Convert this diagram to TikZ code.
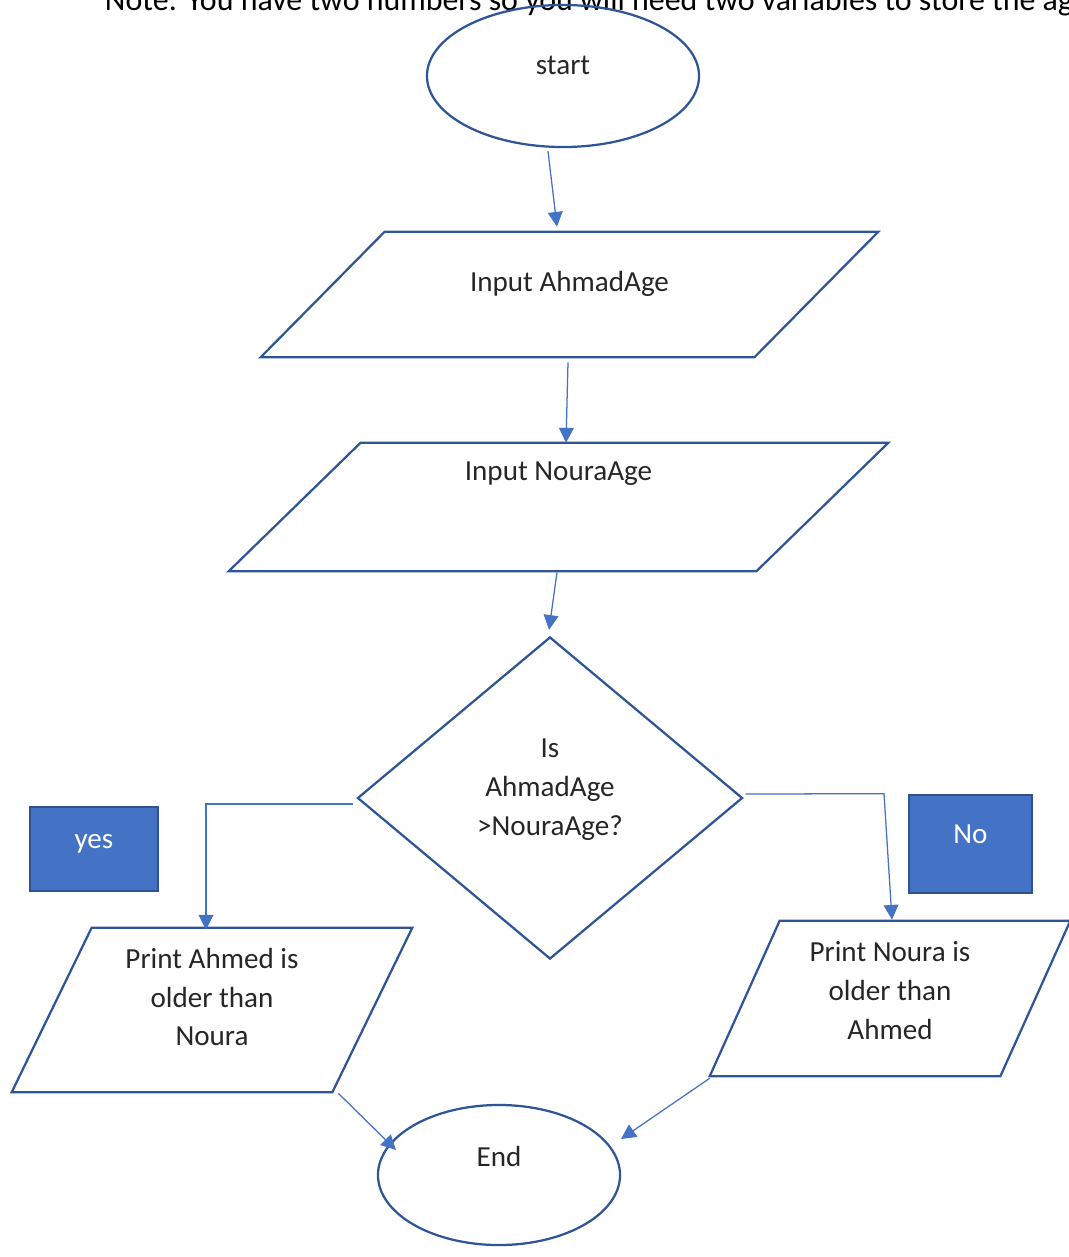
\documentclass[tikz,border=0pt]{standalone}
\usepackage{fontspec}
\setmainfont{Carlito}
\usetikzlibrary{shapes.geometric,arrows.meta,calc}

\definecolor{edgeblue}{HTML}{2F5597}
\definecolor{flowblue}{HTML}{4472C4}
\definecolor{tagline}{HTML}{2F528F}
\definecolor{ink}{HTML}{262626}

\tikzset{
  txt/.style={text=ink, align=center, font=\fontsize{20.7}{27.7}\selectfont},
  outline/.style={draw=edgeblue, line width=1.6pt},
  term/.style={ellipse, outline, inner sep=0pt},
  io/.style={rectangle, inner sep=0pt},
  decision/.style={diamond, outline, inner sep=0pt},
  tag/.style={rectangle, draw=tagline, line width=1.5pt, fill=flowblue, inner sep=0pt},
  flow/.style={draw=flowblue, line width=0.9pt, -{Triangle[length=10.5pt,width=10.5pt]}},
}

\begin{document}
\begin{tikzpicture}[x=0.025cm, y=-0.025cm]
  \useasboundingbox (0,0) rectangle (1069,1257);
  \clip (0,0) rectangle (1069,1257);

  % Define nodes
  \node[txt, text=black, font=\fontsize{22.7}{27.7}\selectfont, anchor=base west] (note) at (100,10)
    {Note: You have two numbers so you will need two variables to store the ag};
  \node[term, minimum width=6.8cm, minimum height=3.55cm,
        label={[txt, yshift=0.275cm]center:start}] (start) at (563,76) {};
  \node[io, minimum width=15.425cm, minimum height=3.125cm,
        label={[txt, yshift=0.26cm]center:Input AhmadAge}] (inA) at (569.5,294.5) {};
  \node[io, minimum width=16.475cm, minimum height=3.2cm,
        label={[txt, yshift=0.825cm]center:Input NouraAge}] (inN) at (558.5,507) {};
  \node[decision, minimum width=9.625cm, minimum height=8.05cm,
        label={[txt, yshift=0.2cm]center:Is\\AhmadAge\\>NouraAge?}] (dec) at (550,798) {};
  \node[tag, minimum width=3.2cm, minimum height=2.1cm,
        label={[txt, text=white, yshift=0.125cm]center:yes}] (yes) at (94,849) {};
  \node[tag, minimum width=3.075cm, minimum height=2.45cm,
        label={[txt, text=white, yshift=0.25cm]center:No}] (no) at (970.5,844) {};
  \node[io, minimum width=10cm, minimum height=4.1cm,
        label={[txt, yshift=0.325cm]center:Print Ahmed is\\older than\\Noura}] (pA) at (212,1010) {};
  \node[io, minimum width=9cm, minimum height=3.875cm,
        label={[txt, yshift=0.19cm]center:Print Noura is\\older than\\Ahmed}] (pN) at (890,998.5) {};
  \node[term, minimum width=6.05cm, minimum height=3.5cm,
        label={[txt, yshift=0.475cm]center:End}] (end) at (499,1175) {};

  % Slanted sides of the input/output boxes
  \foreach \n/\off in {inA/124, inN/132, pA/80, pN/70}
    \draw[outline] (\n.south west) -- ($(\n.north west)+(\off,0)$)
      -- (\n.north east) -- ($(\n.south east)+(-\off,0)$) -- cycle;

  % Connect the nodes
  \draw[flow] ($(start.south)+(-15,3)$) -- ($(inA.north)+(-12.5,-5)$);
  \draw[flow] ($(inA.south)+(-1.5,5)$) -- ($(inN.north)+(7.5,0)$);
  \draw[flow] ($(inN.south)+(-1.5,1)$) -- ($(dec.north)+(-1,-6)$);
  \draw[flow] ($(dec.west)+(-3,6)$) -| ($(pA.north)+(-6,2)$);
  \draw[flow] ($(dec.east)+(2,-4)$) -- ($(pN.north)+(-6,-127)$) -- ($(pN.north)+(2,-1)$);
  \draw[flow] ($(pA.south east)+(-74,1)$) -- ($(end.center)+(-103,-25)$);
  \draw[flow] ($(pN.south west)+(0,2)$) -- ($(end.center)+(122,-36)$);

\end{tikzpicture}
\end{document}
